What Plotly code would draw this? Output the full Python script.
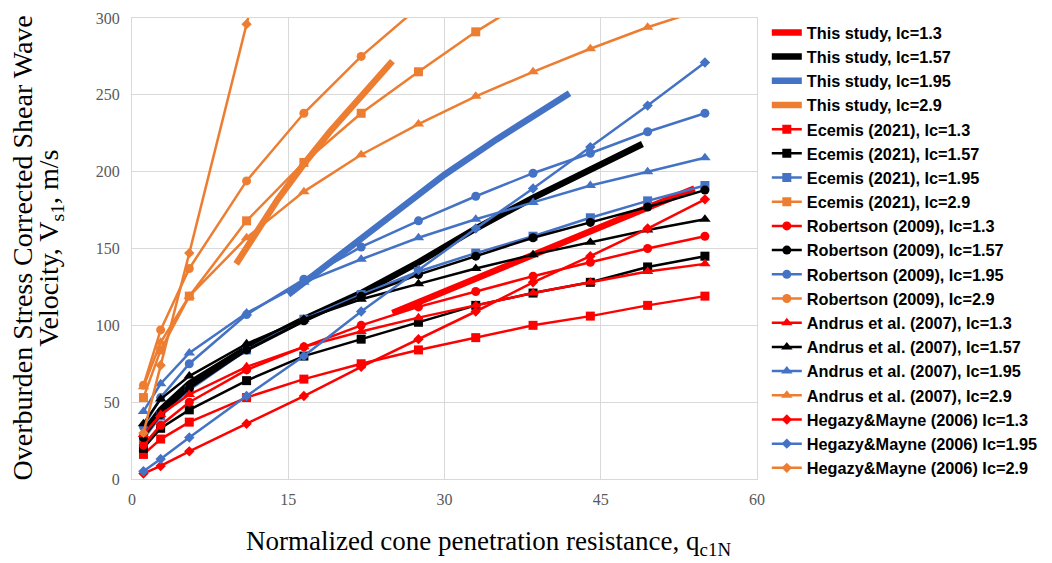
import plotly.graph_objects as go

# qc1N positions used by the published correlations
qc = [1.1, 2.75, 5.5, 11, 16.5, 22, 27.5, 33, 38.5, 44, 49.5, 55]

# this study (thick lines, no markers)
study_13_x = [25, 30, 35, 40, 45, 50, 54]
study_13_y = [108, 122, 137, 151, 165, 178, 189]
study_157_x = [1.1, 2.75, 5.5, 11, 16.5, 22, 27.5, 33, 38.5, 44, 49]
study_157_y = [30, 45, 62, 85, 104, 121, 141, 163, 183, 201, 218]
study_195_x = [15, 20, 25, 30, 35, 42]
study_195_y = [120, 146, 172, 198, 221, 251]
study_29_x = [10, 12, 14, 16.5, 19, 22, 25]
study_29_y = [140, 161, 182, 205, 226, 249, 272]

ecemis_13 = [16, 26, 37, 53, 65, 75, 84, 92, 100, 106, 113, 119]
ecemis_157 = [20, 33, 45, 64, 80, 91, 102, 113, 121, 128, 138, 145]
ecemis_195 = [26, 41, 58, 84, 104, 120, 135, 147, 158, 170, 181, 191]
ecemis_29 = [53, 84, 119, 168, 206, 238, 265, 291, 314, 336, 356, 375]

robertson_13 = [22, 35, 50, 71, 86, 100, 112, 122, 132, 141, 150, 158]
robertson_157 = [27, 42, 59, 84, 103, 119, 133, 145, 157, 167, 177, 188]
robertson_195 = [34, 53, 75, 107, 130, 151, 168, 184, 199, 212, 226, 238]
robertson_29 = [61, 97, 137, 194, 238, 275, 307, 336, 363, 388, 411, 434]

andrus_13 = [29, 42, 55, 73, 86, 96, 105, 113, 121, 128, 135, 140]
andrus_157 = [36, 52, 67, 88, 104, 117, 127, 137, 146, 154, 162, 169]
andrus_195 = [44, 62, 82, 108, 128, 143, 157, 169, 180, 191, 200, 209]
andrus_29 = [60, 89, 119, 157, 187, 211, 231, 249, 265, 280, 294, 306]

hegazy_13 = [3.5, 8.5, 18, 36, 54, 73, 91, 109, 128, 145, 163, 182]
hegazy_195 = [5, 13, 27, 54, 80, 109, 136, 163, 189, 216, 243, 271]
hegazy_29_x = [1.1, 2.75, 5.5, 11, 16.5]
hegazy_29 = [30, 74, 147, 296, 445]

RED, BLACK, BLUE, ORANGE = "#FF0000", "#000000", "#4472C4", "#ED7D31"

fig = go.Figure()
n = 0


def add(name, x, y, color, width=2.5, symbol=None, size=8):
    global n
    n += 1
    mode = "lines" if symbol is None else "lines+markers"
    fig.add_trace(go.Scatter(
        x=x, y=y, name=name, mode=mode, legendgroup=f"g{n}",
        line=dict(color=color, width=width),
        marker=dict(symbol=symbol or "circle", size=size, color=color),
    ))


add("This study, Ic=1.3", study_13_x, study_13_y, RED, 6.5)
add("This study, Ic=1.57", study_157_x, study_157_y, BLACK, 6.5)
add("This study, Ic=1.95", study_195_x, study_195_y, BLUE, 6.5)
add("This study, Ic=2.9", study_29_x, study_29_y, ORANGE, 6.5)
add("Ecemis (2021), Ic=1.3", qc, ecemis_13, RED, symbol="square", size=9)
add("Ecemis (2021), Ic=1.57", qc, ecemis_157, BLACK, symbol="square", size=9)
add("Ecemis (2021), Ic=1.95", qc, ecemis_195, BLUE, symbol="square", size=9)
add("Ecemis (2021), Ic=2.9", qc, ecemis_29, ORANGE, symbol="square", size=9)
add("Robertson (2009), Ic=1.3", qc, robertson_13, RED, symbol="circle", size=9)
add("Robertson (2009), Ic=1.57", qc, robertson_157, BLACK, symbol="circle", size=9)
add("Robertson (2009), Ic=1.95", qc, robertson_195, BLUE, symbol="circle", size=9)
add("Robertson (2009), Ic=2.9", qc, robertson_29, ORANGE, symbol="circle", size=9)
add("Andrus et al. (2007), Ic=1.3", qc, andrus_13, RED, symbol="triangle-up", size=10)
add("Andrus et al. (2007), Ic=1.57", qc, andrus_157, BLACK, symbol="triangle-up", size=10)
add("Andrus et al. (2007), Ic=1.95", qc, andrus_195, BLUE, symbol="triangle-up", size=10)
add("Andrus et al. (2007), Ic=2.9", qc, andrus_29, ORANGE, symbol="triangle-up", size=10)
add("Hegazy&Mayne (2006) Ic=1.3", qc, hegazy_13, RED, symbol="diamond", size=8)
add("Hegazy&Mayne (2006) Ic=1.95", qc, hegazy_195, BLUE, symbol="diamond", size=8)
add("Hegazy&Mayne (2006) Ic=2.9", hegazy_29_x, hegazy_29, ORANGE, symbol="diamond", size=8)

serif = "Times New Roman, Liberation Serif, serif"
axis_common = dict(
    showgrid=True, gridcolor="#D9D9D9", gridwidth=1,
    showline=True, linecolor="#D9D9D9", mirror=True, zeroline=False,
    automargin=False,
    ticks="", tickfont=dict(family=serif, size=16, color="#595959"),
)

fig.update_xaxes(range=[0, 60], dtick=15, tick0=0, ticklabelstandoff=6, **axis_common)
fig.update_yaxes(range=[0, 300], dtick=50, tick0=0, ticklabelstandoff=8, **axis_common)

# axis titles as annotations (tighter line spacing, title sits right of centre)
title_font = dict(family=serif, size=28, color="#000000")
fig.add_annotation(text="Overburden Stress Corrected Shear Wave", textangle=-90,
                   xref="paper", yref="paper", x=-0.176, y=0.5,
                   xanchor="center", yanchor="middle", showarrow=False, font=title_font)
fig.add_annotation(text="Velocity, V<sub>s1</sub>, m/s", textangle=-90,
                   xref="paper", yref="paper", x=-0.131, y=0.5,
                   xanchor="center", yanchor="middle", showarrow=False, font=title_font)
fig.add_annotation(text="Normalized cone penetration resistance, q<sub>c1N</sub>",
                   xref="paper", yref="paper", x=0.571, y=-0.139,
                   xanchor="center", yanchor="middle", showarrow=False,
                   font=dict(family=serif, size=27, color="#000000"))

fig.update_layout(
    width=1052, height=563,
    margin=dict(l=124, r=303, t=10, b=92, autoexpand=False),
    plot_bgcolor="white", paper_bgcolor="white",
    legend=dict(xref="container", yref="container", x=0.7213, y=0.987,
                xanchor="left", yanchor="top",
                traceorder="grouped", tracegroupgap=0, itemwidth=30,
                maxheight=560,
                font=dict(family="Arial, Liberation Sans, sans-serif", size=16.3,
                          color="#000000", weight="bold"),
                bgcolor="rgba(0,0,0,0)"),
    showlegend=True,
)

fig.write_html("out.html")
